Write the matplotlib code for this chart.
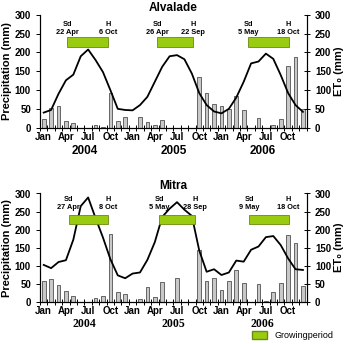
# precipitation bars + ET0 line for two sites, 2004-2006
import numpy as np
import matplotlib
matplotlib.use("Agg")
import matplotlib.pyplot as plt
from matplotlib.patches import Patch

plt.rcParams['font.family'] = ['Liberation Sans', 'DejaVu Sans']
plt.rcParams['font.weight'] = 'bold'
plt.rcParams['axes.labelweight'] = 'bold'
plt.rcParams['axes.titleweight'] = 'bold'

# monthly values, Jan 2004 .. Dec 2006
months = np.arange(36)
tick_names = ["Jan", "Apr", "Jul", "Oct"]
years = ["2004", "2005", "2006"]

alv_prec = [23, 52, 58, 17, 13, 0, 0, 8, 2, 93, 18, 27,
            0, 27, 15, 8, 19, 0, 0, 0, 0, 136, 91, 62,
            58, 50, 84, 47, 0, 25, 0, 8, 23, 164, 187, 50]
alv_et0 = [40, 47, 90, 126, 141, 190, 208, 180, 148, 100, 50, 47,
           46, 60, 82, 122, 162, 190, 193, 182, 144, 92, 60, 43,
           38, 50, 80, 122, 171, 176, 197, 183, 140, 92, 60, 42]

mit_prec = [56, 64, 45, 31, 17, 0, 0, 10, 17, 187, 26, 22,
            0, 8, 41, 13, 54, 0, 65, 0, 0, 144, 58, 66,
            32, 58, 87, 51, 0, 48, 2, 27, 51, 185, 163, 44]
mit_et0 = [102, 93, 110, 115, 172, 265, 289, 232, 178, 118, 73, 65,
           78, 81, 116, 165, 235, 258, 276, 255, 238, 142, 83, 90,
           74, 81, 114, 111, 144, 153, 179, 182, 157, 120, 90, 88]

# growing periods: (year, sow month, sow day, harvest month, harvest day)
alv_sd = ["22 Apr", "26 Apr", "5 May"]
alv_h = ["6 Oct", "22 Sep", "18 Oct"]
alv_dates = [(2004, 4, 22, 10, 6), (2005, 4, 26, 9, 22), (2006, 5, 5, 10, 18)]
mit_sd = ["27 Apr", "5 May", "9 May"]
mit_h = ["8 Oct", "28 Sep", "18 Oct"]
mit_dates = [(2004, 4, 27, 10, 8), (2005, 5, 5, 9, 28), (2006, 5, 9, 10, 18)]

GREEN = "#99cc11"


def date_pos(y, m, d):
    return (y - 2004) * 12 + (m - 1) + (d - 1) / 30.0


def panel(ax, title, prec, et0, dates, sd_lab, h_lab, year_font, lab_y):
    ax.bar(months + 0.5, prec, width=0.5, color="#c8c8c8",
           edgecolor="#333333", linewidth=0.5, zorder=2)
    ax.plot(months + 0.5, et0, color="black", lw=1.3, zorder=3)

    for (yr, m1, d1, m2, d2), s, h in zip(dates, sd_lab, h_lab):
        x0 = date_pos(yr, m1, d1)
        x1 = date_pos(yr, m2, d2)
        ax.bar(x0, 25, width=x1 - x0, bottom=215, align="edge",
               color=GREEN, edgecolor="#6a8a10", linewidth=0.6, zorder=4)
        ax.text(x0, lab_y[0], "Sd", ha="center", va="center", fontsize=5.3)
        ax.text(x0, lab_y[1], s, ha="center", va="center", fontsize=5.3)
        ax.text(x1, lab_y[0], "H", ha="center", va="center", fontsize=5.3)
        ax.text(x1, lab_y[1], h, ha="center", va="center", fontsize=5.3)

    ax.set_xlim(0, 36)
    ax.set_ylim(0, 300)
    ax.set_yticks([0, 50, 100, 150, 200, 250, 300])
    ax.set_xticks(np.arange(37))
    ax.set_xticklabels([])
    ax.set_xticks(np.arange(0, 36, 3) + 0.5, minor=True)
    ax.set_xticklabels(tick_names * 3, minor=True, fontsize=7, fontweight="bold")
    ax.tick_params(axis="x", which="major", direction="inout", length=4, width=0.7)
    ax.tick_params(axis="x", which="minor", length=0, pad=3)
    ax.tick_params(axis="y", direction="out", length=3, width=0.7, labelsize=7)
    for t in ax.get_yticklabels():
        t.set_fontweight("bold")
    ax.spines["top"].set_visible(False)
    ax.set_ylabel("Precipitation (mm)", fontsize=8, labelpad=2, fontweight="bold")
    ax.set_title(title, fontsize=8.5, pad=3, fontweight="bold")

    for k, yname in enumerate(years):
        ax.text(12 * k + 6, -0.21, yname, transform=ax.get_xaxis_transform(),
                ha="center", va="center", fontsize=8.5, family=year_font,
                fontweight="bold")

    ax2 = ax.twinx()
    ax2.set_ylim(0, 300)
    ax2.set_yticks([0, 50, 100, 150, 200, 250, 300])
    ax2.tick_params(axis="y", direction="inout", length=5, width=0.7, labelsize=7)
    for t in ax2.get_yticklabels():
        t.set_fontweight("bold")
    ax2.spines["top"].set_visible(False)
    ax2.set_ylabel("ET₀ (mm)", fontsize=8, labelpad=2, fontweight="bold")
    return ax


fig = plt.figure(figsize=(3.49, 3.44), dpi=100)
ax_top = fig.add_axes([0.1146, 0.629, 0.764, 0.3276])
ax_bot = fig.add_axes([0.1146, 0.123, 0.764, 0.3145])

panel(ax_top, "Alvalade", alv_prec, alv_et0, alv_dates, alv_sd, alv_h,
      ["Liberation Sans", "DejaVu Sans"], (275, 253))
panel(ax_bot, "Mitra", mit_prec, mit_et0, mit_dates, mit_sd, mit_h,
      ["Liberation Serif", "DejaVu Serif"], (283, 260))

# legend for the growing period box
fig.legend(handles=[Patch(facecolor=GREEN, edgecolor="#6a8a10", label="Growingperiod")],
           loc="lower left", bbox_to_anchor=(0.70, -0.012), frameon=False,
           fontsize=6.5, handlelength=1.6, handleheight=1.1,
           prop={"weight": "normal", "size": 6.5})

fig.savefig("out.png", dpi=100)
